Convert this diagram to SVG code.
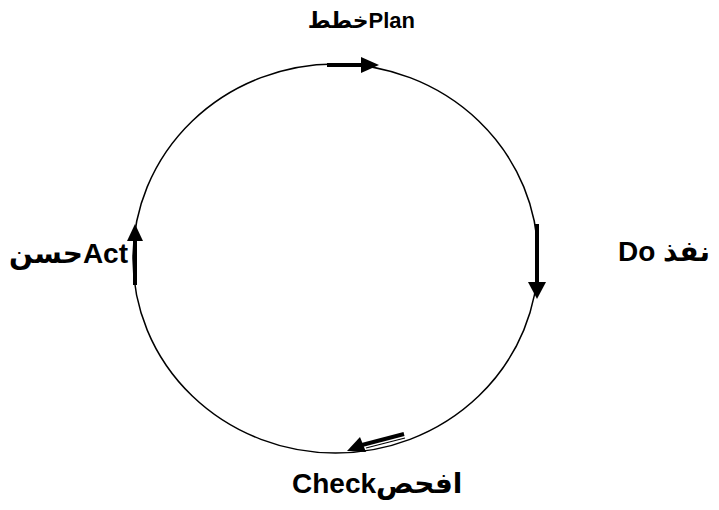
<svg xmlns="http://www.w3.org/2000/svg" width="719" height="510" viewBox="0 0 719 510">
<style>
.lbl{font-family:"Liberation Sans","DejaVu Sans",Arial,sans-serif;font-weight:bold;font-size:28px;fill:#000}
.sm{font-size:22px}
.ring{fill:none;stroke:#000;stroke-width:1.5}
.arr{stroke:#000;stroke-width:4;fill:none}
.thin{stroke:#000;stroke-width:1.2;fill:none}
.head{fill:#000}
</style>
<rect width="719" height="510" fill="#fff"/>
<g id="cycle">
<ellipse class="ring" cx="335.5" cy="258.5" rx="202.5" ry="194.5"/>
</g>
<g id="connectors">
<line class="arr" x1="327" y1="65" x2="362" y2="65"/>
<polygon class="head" points="379,65 361,57 361,73"/>
<line class="arr" x1="537" y1="224" x2="537" y2="283"/>
<polygon class="head" points="537,299 528,282 546,282"/>
<line class="arr" x1="404" y1="434" x2="362" y2="445"/>
<line class="thin" x1="405" y1="438" x2="366" y2="448"/>
<polygon class="head" points="347,451 360,437 366,452"/>
<line class="arr" x1="135" y1="285" x2="135" y2="240"/>
<polygon class="head" points="135,224 127,241 143,241"/>
</g>
<g id="plan"><text class="lbl sm" x="415" y="28" text-anchor="end">خططPlan</text></g>
<g id="do"><text class="lbl" x="618" y="261">Do نفذ</text></g>
<g id="check"><text class="lbl" x="292" y="493">Checkافحص</text></g>
<g id="act"><text class="lbl" x="128" y="263" text-anchor="end">حسنAct</text></g>
</svg>
